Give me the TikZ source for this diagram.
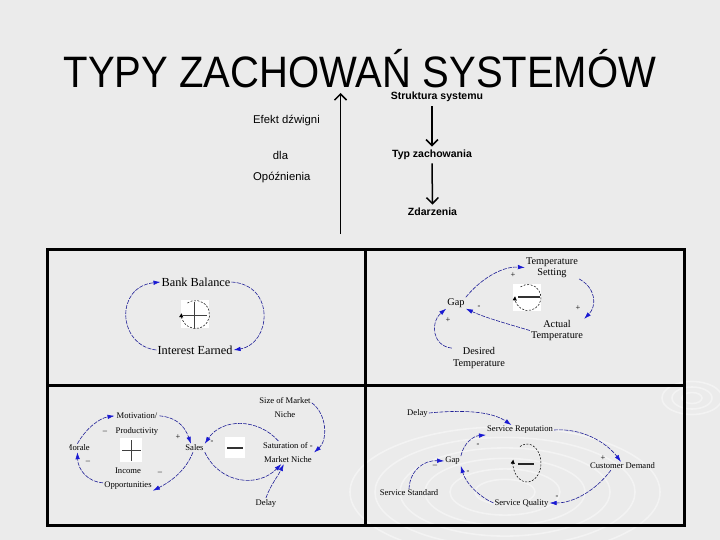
\documentclass[tikz,border=0pt]{standalone}
\usepackage{fontspec}
\setmainfont{Liberation Serif}
\newfontfamily\sansfont{Liberation Sans}
\newfontfamily\titlefont[FakeStretch=0.91]{Liberation Sans}
\usetikzlibrary{arrows.meta,positioning}
\definecolor{slidegray}{RGB}{235,235,235}
\definecolor{linkblue}{RGB}{30,30,150}
\definecolor{tipblue}{RGB}{25,25,210}

\begin{document}
\begin{tikzpicture}[x=1pt,y=-1pt,
    link/.style={draw=linkblue, line width=0.6pt, dash pattern=on 4pt off 1.2pt,
        -{Latex[length=7pt,width=4.5pt,color=tipblue]}},
    bigarrow/.style={line width=1.5pt, -{Straight Barb[length=6pt,width=12pt]}},
    varA/.style={inner sep=1pt, font=\fontsize{12.3}{13}\selectfont},
    varB/.style={inner sep=1pt, align=center, font=\fontsize{10.3}{11.5}\selectfont},
    varC/.style={inner sep=1pt, align=center, font=\fontsize{8.6}{14.5}\selectfont},
    sign/.style={inner sep=0pt, font=\fontsize{8.5}{9}\selectfont},
    loopring/.style={line width=0.5pt, dash pattern=on 2pt off 1.5pt,
        -{Triangle[length=4pt,width=4pt]}},
    ripple/.style={draw=white, line width=1.6pt, opacity=0.4}]

    % Slide background
    \useasboundingbox (0,0) rectangle (720,540);
    \fill[slidegray] (0,0) rectangle (720,540);
    \foreach \r in {30,55,80,105,130,155}
        \draw[ripple] (505,492) ellipse ({\r} and {\r*0.42});
    \foreach \r in {10,20,30}
        \draw[ripple] (692,398) ellipse ({\r} and {\r*0.55});

    % Title
    \node[inner sep=0pt] (title) at (360,69) {\titlefont\fontsize{44}{48}\selectfont TYPY ZACHOWAŃ SYSTEMÓW};

    % Levels on top
    \coordinate (axbot) at (340.5,234);
    \coordinate (axtop) at (340.5,93);
    \draw[bigarrow] (axbot) -- (axtop);
    \node[anchor=west, inner sep=0pt] (efekt) at (253,121) {\sansfont\fontsize{11.3}{12}\selectfont Efekt dźwigni};
    \node[inner sep=0pt] (dla) at (280.5,155) {\sansfont\fontsize{11.3}{12}\selectfont dla};
    \node[anchor=west, inner sep=0pt] (opozn) at (253,178) {\sansfont\fontsize{11.3}{12}\selectfont Opóźnienia};
    \node[inner sep=1pt] (struct) at (437,97) {\sansfont\bfseries\fontsize{10.5}{12}\selectfont Struktura systemu};
    \node (typ) at (432,155) {\sansfont\bfseries\fontsize{10.5}{12}\selectfont Typ zachowania};
    \node (zd) at (432.5,212) {\sansfont\bfseries\fontsize{10.5}{12}\selectfont Zdarzenia};
    \draw[bigarrow] ([yshift=-3pt]struct.south -| typ.north) -- (typ.north);
    \draw[bigarrow] (typ.south) -- (zd.north);

    % Frame with four panels
    \draw[line width=2.6pt] (47.5,249.5) rectangle (684.5,525.5);
    \draw[line width=2.6pt] (365.5,249.5) -- (365.5,525.5);
    \draw[line width=2.6pt] (47.5,385.5) -- (684.5,385.5);

    % Panel 1: reinforcing loop
    \node[varA] (bb) at (196,282) {Bank Balance};
    \node[varA] (ie) at (195,350) {Interest Earned};
    \draw[link] (bb.east) .. controls (276,285) and (271,344) .. (ie.east);
    \draw[link] (ie.west) .. controls (118,346) and (114,287) .. (bb.west);
    \fill[white] (181,300) rectangle (209,328);
    \draw[line width=1pt, black!75] (183,315) -- (207,315) (194.5,302) -- (194.5,328);
    \draw[loopring] (195.5,314.5) ++(235:14) arc[start angle=235, end angle=545, radius=14];

    % Panel 2: balancing loop
    \node[varB] (ts) at (552,267.5) {Temperature\\Setting};
    \node[varB] (gap2) at (456,303) {Gap};
    \node[varB] (at) at (557,330.5) {Actual\\Temperature};
    \node[varB] (dt) at (479,358) {Desired\\Temperature};
    \draw[link] (gap2.north east) .. controls (478,282) and (500,266) .. (ts.west);
    \draw[link] (ts.south east) .. controls (596,288) and (597,306) .. (at.north east);
    \draw[link] (at.west) .. controls (508,324) and (486,318) .. (gap2.south east);
    \draw[link] (dt.160) .. controls (432,346) and (430,322) .. (gap2.south west);
    \node[sign] (p2a) at (513,275) {+};
    \node[sign] (p2b) at (578,308) {+};
    \node[sign] (p2c) at (479,307) {-};
    \node[sign] (p2d) at (448,320) {+};
    \fill[white] (513,284) rectangle (541,311);
    \draw[line width=1.2pt, black!80] (518,297) -- (540,297);
    \draw[loopring] (528,297.5) ++(235:13) arc[start angle=235, end angle=545, radius=13];

    % Panel 3: two loops around sales
    \node[varC] (mot) at (137,424) {Motivation/\\Productivity};
    \begin{scope}
        \clip (69,438) rectangle (100,460);
        \node[varC, anchor=east] (mor) at (91,448) {Morale};
    \end{scope}
    \node[varC] (inc) at (128,478.5) {Income\\Opportunities};
    \node[varC] (sal) at (194.5,448) {Sales};
    \node[varC] (size) at (285,407.5) {Size of Market\\Niche};
    \node[varC] (sat) at (288,452.5) {Saturation of -\\Market Niche};
    \node[varC] (del3) at (266,503) {Delay};
    \draw[link] (mor.north) .. controls (86,428) and (100,418) .. (mot.160);
    \draw[link] (mot.20) .. controls (174,417) and (184,424) .. (sal.130);
    \draw[link] (sal.250) .. controls (186,470) and (172,481) .. (inc.south east);
    \draw[link] (inc.190) .. controls (88,482) and (78,470) .. (mor.south);
    \draw[link] (sal.south east) .. controls (220,484) and (258,488) .. (sat.240);
    \draw[link] (sat.130) .. controls (258,418) and (222,418) .. (sal.north east);
    \draw[link] (size.10) .. controls (327,414) and (328,440) .. (sat.east);
    \draw[link] (del3.north) .. controls (270,486) and (278,476) .. (sat.250);
    \node[sign] (p3a) at (105,432) {–};
    \node[sign] (p3b) at (178,437) {+};
    \node[sign] (p3c) at (212,442) {-};
    \node[sign] (p3d) at (88,462) {–};
    \node[sign] (p3e) at (160,473) {–};
    \fill[white] (120,438) rectangle (142,462);
    \draw[line width=1pt, black!75] (122,450) -- (141,450) (131,440) -- (131,461);
    \fill[white] (225,437) rectangle (245,458);
    \draw[line width=1.2pt, black!80] (227,448) -- (243,448);

    % Panel 4: service quality loop
    \node[varC] (del4) at (417.5,413) {Delay};
    \node[varC] (rep) at (520,430) {Service Reputation};
    \node[varC] (cd) at (622.5,466) {Customer Demand};
    \node[varC] (gap4) at (452.5,461) {Gap};
    \node[varC] (ss) at (409,493) {Service Standard};
    \node[varC] (sq) at (521.5,503) {Service Quality};
    \draw[link] (del4.east) .. controls (470,409) and (494,413) .. (rep.150);
    \draw[link] (gap4.north east) .. controls (464,442) and (474,436) .. (rep.south west);
    \draw[link] (rep.east) .. controls (582,428) and (606,442) .. (cd.110);
    \draw[link] (cd.200) .. controls (596,490) and (574,503) .. (sq.east);
    \draw[link] (sq.west) .. controls (480,497) and (466,484) .. (gap4.south east);
    \draw[link] (ss.north) .. controls (410,470) and (424,460) .. (gap4.west);
    \node[sign] (p4a) at (478,445) {-};
    \node[sign] (p4b) at (435,466) {–};
    \node[sign] (p4c) at (603,458) {+};
    \node[sign] (p4d) at (468,472) {-};
    \node[sign] (p4e) at (557,497) {-};
    \draw[line width=1.2pt, black!85] (518,464) -- (534,464);
    \draw[loopring] (527,463) ++(240:14 and 19) arc[start angle=240, end angle=550, x radius=14, y radius=19];
\end{tikzpicture}
\end{document}
